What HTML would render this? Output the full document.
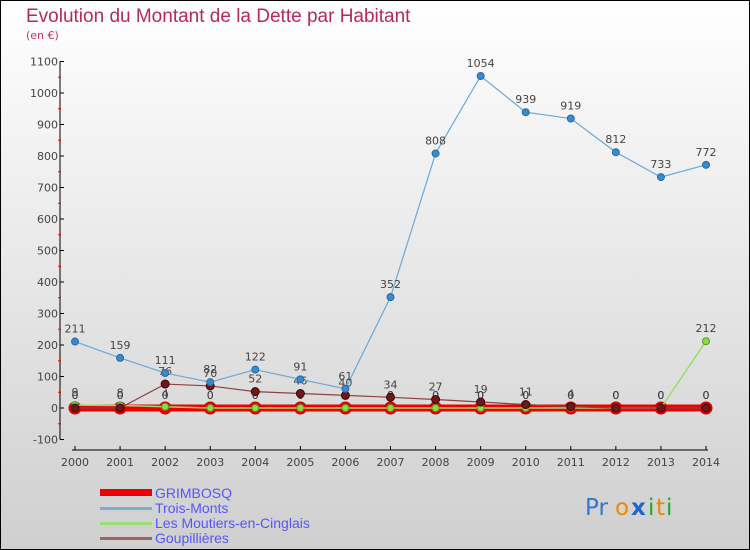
<!DOCTYPE html>
<html><head><meta charset="utf-8"><style>
body{margin:0;width:750px;height:550px;overflow:hidden}
svg{display:block;font-family:"DejaVu Sans","Liberation Sans",sans-serif}
</style></head><body>
<svg width="750" height="550">
<defs><linearGradient id="bg" x1="0" y1="0" x2="0" y2="1"><stop offset="0" stop-color="#ffffff"/><stop offset="1" stop-color="#cfcfcf"/></linearGradient></defs>
<rect x="0" y="0" width="750" height="550" fill="url(#bg)"/>
<rect x="0.5" y="0.5" width="749" height="549" fill="none" stroke="#000"/>
<text x="26" y="22" font-size="19" fill="#b8285e" style="font-family:'Liberation Sans',sans-serif">Evolution du Montant de la Dette par Habitant</text>
<text x="26" y="39" font-size="11" fill="#c0306a">(en €)</text>
<g id="axes"></g>
<g id="series"></g>
<g id="legend">
<rect x="100" y="489" width="52" height="7" fill="#e00"/>
<text x="155" y="498" font-size="14" fill="#5555ff" style="font-family:'Liberation Sans',sans-serif">GRIMBOSQ</text>
<rect x="100" y="507" width="52" height="3" fill="#7aaed0"/>
<text x="155" y="513" font-size="14" fill="#5555ff" style="font-family:'Liberation Sans',sans-serif">Trois-Monts</text>
<rect x="100" y="522" width="52" height="3" fill="#99dd77"/>
<text x="155" y="528" font-size="14" fill="#5555ff" style="font-family:'Liberation Sans',sans-serif">Les Moutiers-en-Cinglais</text>
<rect x="100" y="537" width="52" height="3" fill="#996666"/>
<text x="155" y="543" font-size="14" fill="#5555ff" style="font-family:'Liberation Sans',sans-serif">Goupillières</text>
</g>
<g font-size="23">
<text x="585" y="515" fill="#3377cc">Pr</text><text x="615" y="515" fill="#ee8800">o</text><text x="631" y="515" fill="#2266cc" font-weight="bold">x</text><text x="648" y="515" fill="#22aa22">i</text><text x="656" y="515" fill="#ee8800">t</text><text x="666" y="515" fill="#22aa22">i</text>
</g>
</svg>
<script>
const years=[2000,2001,2002,2003,2004,2005,2006,2007,2008,2009,2010,2011,2012,2013,2014];
const grimbosq=[0,0,0,0,0,0,0,0,0,0,0,0,0,0,0];
const troisMonts=[211,159,111,82,122,91,61,352,808,1054,939,919,812,733,772];
const moutiers=[9,8,4,0,0,0,0,0,0,0,0,0,0,0,212];
const goupillieres=[0,0,76,70,52,46,40,34,27,19,11,4,0,0,0];
const yTicks=[-100,0,100,200,300,400,500,600,700,800,900,1000,1100];
const NS="http://www.w3.org/2000/svg";
const X=i=>75+i*(706-75)/(years.length-1);
const Y=v=>408-v*0.315;
function mk(t,a,p){const e=document.createElementNS(NS,t);for(const k in a)e.setAttribute(k,a[k]);p.appendChild(e);return e;}
const ax=document.getElementById('axes');
const yl=mk('line',{x1:60,y1:Y(1100),x2:60,y2:Y(-100),stroke:'#000'},ax);


yTicks.forEach(v=>{
 mk('line',{x1:60,x2:64,y1:Y(v),y2:Y(v),stroke:'#000'},ax);
 if(v<1100){mk('line',{x1:58,x2:61,y1:Y(v+50),y2:Y(v+50),stroke:'#e00'},ax);}
 const t=mk('text',{x:58,y:Y(v)+4,'text-anchor':'end','font-size':11,fill:'#444'},ax);
 
 
 t.textContent=v;
});
const xl=mk('line',{x1:72,y1:450,x2:708,y2:450,stroke:'#000'},ax);


years.forEach((y,i)=>{
 mk('line',{x1:X(i),x2:X(i),y1:446,y2:450,stroke:'#000'},ax);
 const t=mk('text',{x:X(i),y:466,'text-anchor':'middle','font-size':11,fill:'#444'},ax);
 
 
 t.textContent=y;
});
const sg=document.getElementById('series');
function series(name,vals,stroke,w,dotR,dotFill,dotStroke,dsw,labels){
 const g=mk('g',{},sg);
 
 
 const p=mk('polyline',{points:vals.map((v,i)=>X(i)+','+Y(v)).join(' '),fill:'none',stroke:stroke,'stroke-width':w},g);
 
 
 vals.forEach((v,i)=>{
  const c=mk('circle',{cx:X(i),cy:Y(v),r:dotR,fill:dotFill,stroke:dotStroke,'stroke-width':dsw},g);
  
  
  if(labels){const t=mk('text',{x:X(i),y:Y(v)-9,'text-anchor':'middle','font-size':11,fill:'#444'},g);
   
   
   t.textContent=v;}
 });
}
series('grimbosq',grimbosq,'#e00',7,6,'#e00','#c00',1,true);
series('moutiers',moutiers,'#99dd66',1.5,3.5,'#88dd44','#559922',1,true);
series('goupillieres',goupillieres,'#884444',1.2,4,'#6a1a1a','#400',1,true);
series('trois-monts',troisMonts,'#6aa8d8',1.2,3.5,'#3a8ad0','#2a6aa0',1,true);
</script>
</body></html>
